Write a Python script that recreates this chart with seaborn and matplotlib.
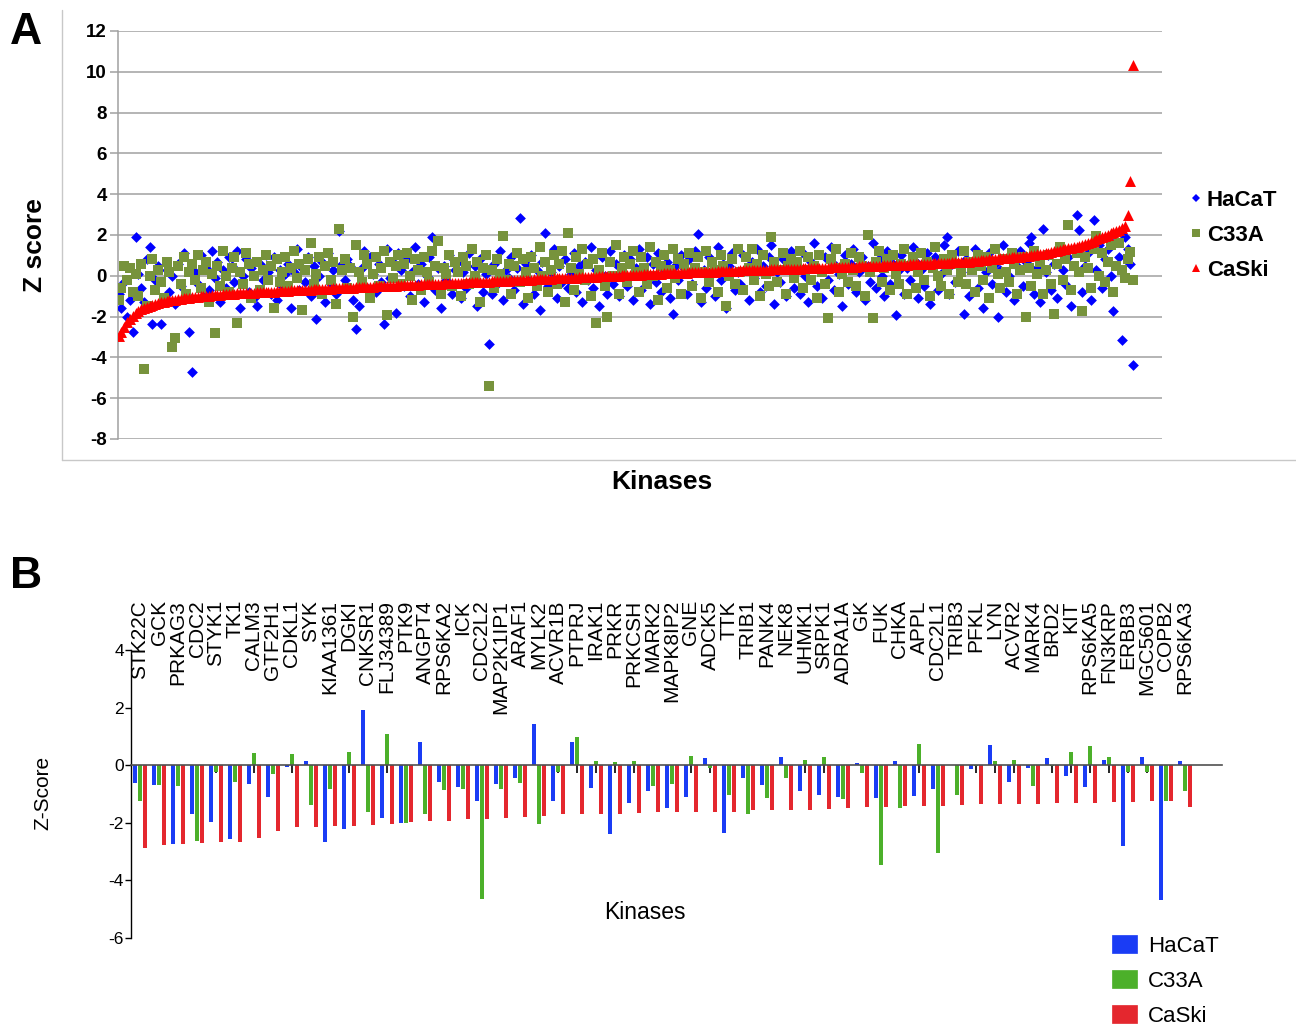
import numpy as np
import pandas as pd
import matplotlib
matplotlib.use("Agg")
import matplotlib.pyplot as plt
import matplotlib.transforms as mtransforms
from matplotlib.lines import Line2D
from matplotlib.patches import Patch
import seaborn as sns

# ---------------- Panel A data (kinases ordered by CaSki Z score) ----------------
caski_z = [
    -2.95, -2.75, -2.5, -2.28, -2.1, -1.96, -1.84, -1.74, -1.65, -1.58, -1.52, -1.46, -1.41, -1.37, -1.33, -1.3, -1.27, -1.24, -1.21, -1.19,
    -1.17, -1.15, -1.13, -1.11, -1.09, -1.07, -1.05, -1.04, -1.02, -1.01, -0.99, -0.98, -0.97, -0.96, -0.95, -0.94, -0.93, -0.91, -0.9, -0.89,
    -0.88, -0.87, -0.86, -0.86, -0.85, -0.84, -0.83, -0.83, -0.82, -0.81, -0.8, -0.8, -0.79, -0.78, -0.78, -0.77, -0.76, -0.75, -0.75, -0.74,
    -0.73, -0.72, -0.72, -0.71, -0.7, -0.7, -0.69, -0.68, -0.68, -0.67, -0.66, -0.66, -0.65, -0.64, -0.64, -0.63, -0.62, -0.62, -0.61, -0.61,
    -0.6, -0.59, -0.58, -0.58, -0.57, -0.56, -0.56, -0.55, -0.54, -0.54, -0.53, -0.52, -0.52, -0.51, -0.5, -0.5, -0.49, -0.48, -0.48, -0.47,
    -0.46, -0.45, -0.45, -0.44, -0.44, -0.43, -0.43, -0.42, -0.41, -0.41, -0.4, -0.4, -0.39, -0.38, -0.38, -0.37, -0.37, -0.36, -0.36, -0.35,
    -0.34, -0.33, -0.33, -0.32, -0.32, -0.31, -0.3, -0.3, -0.29, -0.29, -0.28, -0.28, -0.27, -0.26, -0.26, -0.25, -0.25, -0.24, -0.24, -0.23,
    -0.23, -0.22, -0.21, -0.21, -0.2, -0.19, -0.19, -0.18, -0.17, -0.17, -0.16, -0.15, -0.15, -0.14, -0.13, -0.13, -0.12, -0.12, -0.11, -0.11,
    -0.1, -0.09, -0.09, -0.08, -0.07, -0.07, -0.06, -0.05, -0.05, -0.04, -0.03, -0.03, -0.02, -0.01, -0.01, 0.0, 0.0, 0.01, 0.02, 0.02,
    0.03, 0.04, 0.04, 0.05, 0.06, 0.06, 0.07, 0.08, 0.08, 0.09, 0.1, 0.1, 0.11, 0.12, 0.12, 0.13, 0.13, 0.14, 0.15, 0.15,
    0.16, 0.16, 0.17, 0.17, 0.18, 0.18, 0.19, 0.19, 0.2, 0.2, 0.21, 0.21, 0.22, 0.22, 0.23, 0.23, 0.24, 0.24, 0.25, 0.25,
    0.26, 0.26, 0.27, 0.27, 0.28, 0.28, 0.29, 0.29, 0.3, 0.3, 0.3, 0.31, 0.31, 0.32, 0.32, 0.33, 0.33, 0.34, 0.34, 0.35,
    0.35, 0.35, 0.36, 0.36, 0.37, 0.37, 0.38, 0.38, 0.39, 0.39, 0.4, 0.4, 0.41, 0.41, 0.42, 0.42, 0.43, 0.43, 0.44, 0.44,
    0.45, 0.45, 0.46, 0.46, 0.47, 0.47, 0.48, 0.48, 0.49, 0.5, 0.5, 0.51, 0.51, 0.52, 0.52, 0.53, 0.53, 0.54, 0.54, 0.55,
    0.56, 0.56, 0.57, 0.58, 0.58, 0.59, 0.6, 0.6, 0.61, 0.62, 0.62, 0.63, 0.64, 0.64, 0.65, 0.66, 0.66, 0.67, 0.67, 0.68,
    0.69, 0.7, 0.72, 0.73, 0.74, 0.76, 0.77, 0.78, 0.8, 0.81, 0.82, 0.84, 0.85, 0.86, 0.88, 0.89, 0.9, 0.91, 0.92, 0.93,
    0.95, 0.97, 0.99, 1.01, 1.03, 1.05, 1.07, 1.09, 1.11, 1.14, 1.17, 1.2, 1.23, 1.26, 1.29, 1.32, 1.35, 1.38, 1.41, 1.43,
    1.45, 1.5, 1.55, 1.6, 1.66, 1.72, 1.78, 1.84, 1.9, 1.96, 2.02, 2.08, 2.14, 2.2, 2.26, 2.33, 2.45, 2.98, 4.65, 10.33,
]
hacat_z = [
    -0.9, -1.6, -0.3, -2.0, -1.2, -2.75, 1.9, 0.1, -0.6, -1.3, 0.8, 1.4, -2.36, -0.2, 0.5, -2.36, -1.1, 0.3, -0.8, 0.0,
    -1.4, 0.6, -0.5, 1.1, -0.9, -2.77, -4.7, 0.2, -0.4, 1.0, -1.0, 0.4, -0.7, 1.2, -0.1, 0.7, -1.3, 0.3, -0.6, 0.9,
    0.5, -0.3, 1.2, -1.6, 0.0, 0.8, -0.8, 0.4, -1.1, -1.5, 0.6, -0.2, 1.0, 0.2, -0.9, 0.9, -1.2, 0.3, -0.5, 0.1,
    0.6, -1.6, 0.2, 1.3, -0.7, 0.4, -0.3, 0.9, -1.0, 0.5, -2.1, 0.0, 0.7, -1.3, 1.1, -0.4, 0.3, -0.9, 2.2, 0.6,
    -0.2, 0.8, 0.5, -1.2, -2.6, -1.5, 0.4, 1.2, -0.6, 0.9, 0.1, -0.8, 0.6, -0.3, -2.35, 1.3, -0.1, 0.7, -1.8, 1.1,
    0.3, -0.5, 0.8, -1.0, 0.2, 1.4, -0.4, 0.6, -1.3, 0.0, 0.9, 1.9, -0.7, 0.4, -1.6, 0.5, -0.2, 1.0, -0.9, 0.3,
    0.7, -1.1, 0.2, -0.6, 1.1, -0.3, 0.5, -1.5, 0.8, -0.8, 0.1, -3.35, -0.9, 0.6, -0.4, 1.2, -1.2, 0.3, -0.1, 0.9,
    -0.7, 0.4, 2.85, -1.4, 0.6, -0.2, 1.0, -0.9, 0.3, -1.7, 0.7, 2.1, -0.5, 0.2, 1.3, -1.1, 0.5, -0.3, 0.8, -0.6,
    0.1, 1.1, -0.8, 0.5, -1.3, 0.7, -0.2, 1.4, -0.6, 0.3, -1.5, 0.9, 0.0, -0.9, 1.2, -0.4, 0.6, -1.0, 0.2, 1.0,
    -0.5, 0.8, -1.2, 0.4, 1.3, -0.7, 0.1, 0.9, -1.4, 0.6, -0.3, 1.1, -0.8, 0.2, 0.7, -1.1, -1.85, 0.5, -0.2, 1.0,
    0.4, -0.9, 0.8, -0.4, 1.2, 2.05, -1.3, 0.3, -0.6, 0.9, 0.1, -1.0, 1.4, -0.2, 0.6, -1.6, 0.5, 1.1, -0.7, 0.2,
    -0.4, 1.0, 0.3, -1.2, 0.7, -0.1, 1.3, -0.8, 0.5, -0.5, 0.9, 1.5, -1.4, 0.2, -0.3, 0.8, -1.0, 0.6, 1.2, -0.6,
    0.4, -0.9, 1.1, 0.0, -1.3, 0.7, 1.6, -0.5, 0.3, -1.1, 0.9, -0.2, 1.4, -0.7, 0.5, 0.1, -1.5, 1.0, -0.4, 0.6,
    1.3, -0.8, 0.2, 0.9, -1.2, 0.5, -0.3, 1.6, -0.6, 0.8, 0.0, -1.0, 1.2, -0.4, 0.6, -1.92, 0.3, 1.0, -0.9, 0.4,
    -0.2, 1.4, 0.7, -1.1, 0.3, -0.5, 1.1, -1.4, 0.5, 0.9, -0.7, 0.1, 1.5, 1.9, -0.9, 0.6, -0.3, 1.2, 0.2, -1.85,
    0.8, -1.0, 0.4, 1.3, -0.6, 0.9, -1.6, 0.2, 1.1, -0.4, 0.6, -2.03, 0.3, 1.5, -0.8, 0.0, 0.9, -1.2, 0.5, 1.2,
    -0.5, 0.7, 1.6, 1.9, -0.9, 0.4, -1.3, 2.3, 0.2, 1.0, -0.7, 0.6, -1.1, 1.4, 0.3, -0.4, 0.9, -1.5, 1.2, 2.98,
    2.25, -0.8, 0.5, 1.1, -1.2, 2.74, 0.3, 1.5, -0.6, 0.8, 1.3, 0.0, -1.73, 1.7, 0.9, -3.13, 1.9, 1.3, 0.6, -4.37,
]
c33a_z = [
    -1.2, -0.6, 0.5, -0.2, 0.4, -0.8, 0.1, -1.0, 0.6, -4.58, -1.5, 0.0, 0.8, -0.7, 0.3, -0.3, -1.1, 0.7, 0.2, -3.49,
    -3.07, 0.5, -0.4, 0.9, -0.9, 0.2, 0.6, -0.2, 1.0, -0.6, 0.3, 0.7, -1.3, 0.1, -2.8, 0.5, -0.5, 1.2, 0.0, -0.8,
    0.4, 0.9, -2.33, 0.2, -0.4, 1.1, 0.6, -1.1, 0.0, 0.7, -0.7, 0.3, 1.0, -0.2, 0.5, -1.6, 0.8, -0.3, 0.2, 0.9,
    -0.5, 0.4, 1.2, -0.1, 0.6, -1.7, 0.3, 0.8, 1.6, -0.4, 0.1, 0.9, -0.9, 0.5, 1.1, -0.2, 0.7, -1.4, 2.3, 0.3,
    0.8, -0.6, 0.4, -2.0, 1.5, 0.2, -0.3, 1.0, 0.6, -1.1, 0.1, 0.9, -0.5, 0.4, 1.2, -1.9, 0.7, -0.1, 0.5, 1.0,
    -0.4, 0.6, 1.1, 0.0, -1.2, 0.8, 0.3, -0.7, 0.9, 0.2, -0.3, 1.2, 0.5, 1.7, -0.9, 0.4, 0.1, 1.0, -0.5, 0.7,
    0.2, -1.0, 0.9, 0.5, -0.4, 1.3, 0.0, 0.7, -1.3, 0.4, 1.0, -5.4, 0.3, -0.6, 0.8, 0.1, 1.95, -0.2, 0.6, -0.9,
    0.5, 1.1, -0.3, 0.8, 0.2, -1.1, 0.9, 0.4, -0.5, 1.4, 0.0, 0.7, -0.8, 0.3, 1.0, -0.4, 0.6, 1.2, -1.3, 2.1,
    0.4, -0.7, 0.9, 0.1, 1.3, -0.2, 0.6, -1.0, 0.8, -2.3, 0.3, 1.1, -0.5, -2.0, 0.7, 0.0, 1.5, -0.9, 0.4, 0.9,
    -0.3, 0.6, 1.2, 0.2, -0.8, 0.9, 0.4, -0.4, 1.4, 0.0, 0.7, -1.2, 0.5, 1.0, -0.6, 0.3, 1.3, -0.1, 0.8, -0.9,
    0.6, 0.1, 1.1, -0.5, 0.4, 0.9, -1.1, 0.2, 1.2, -0.3, 0.7, 0.3, -0.8, 1.0, 0.5, -1.5, 0.0, 0.8, -0.4, 1.3,
    0.2, -0.7, 0.9, 0.4, 1.3, -0.2, 0.6, -1.0, 1.0, 0.1, -0.5, 1.9, 0.7, -0.3, 0.3, 1.1, -0.9, 0.5, 0.8, -0.1,
    0.7, 1.2, -0.6, 0.3, 0.9, -0.2, 0.5, -1.1, 1.0, 0.2, -0.4, -2.07, 0.8, 0.4, 1.3, -0.8, 0.1, 0.6, -0.3, 1.1,
    0.3, -0.5, 0.9, 0.5, -1.0, 2.0, 0.2, -2.07, 0.7, 1.2, -0.3, 0.4, 0.8, -0.7, 1.0, 0.1, -0.4, 0.6, 1.3, -0.9,
    0.5, 0.9, -0.6, 0.2, 1.1, -0.2, 0.7, -1.0, 0.4, 1.4, 0.0, -0.5, 0.8, 0.3, -0.9, 1.0, 0.6, -0.3, 0.2, 1.2,
    -0.4, 0.7, 0.3, -0.8, 1.0, 0.5, -0.2, 0.9, -1.1, 0.4, 1.3, 0.1, -0.6, 0.8, 0.2, -0.3, 1.1, 0.6, -0.9, 0.3,
    0.9, -2.0, 0.4, -0.5, 1.2, 0.1, 0.7, -0.9, 0.3, 1.0, -0.4, -1.87, 0.6, 1.4, -0.2, 0.8, 2.5, -0.7, 0.5, 1.1,
    0.2, -1.75, 0.9, 0.4, -0.6, 1.3, 1.97, 0.0, 1.1, -0.3, 0.7, 1.5, -0.8, 0.5, 1.6, 0.3, -0.1, 0.8, 1.17, -0.2,
]

# ---------------- Panel B data ----------------
kinases = ["STK22C", "GCK", "PRKAG3", "CDC2", "STYK1", "TK1", "CALM3", "GTF2H1", "CDKL1", "SYK",
           "KIAA1361", "DGKI", "CNKSR1", "FLJ34389", "PTK9", "ANGPT4", "RPS6KA2", "ICK", "CDC2L2", "MAP2K1IP1",
           "ARAF1", "MYLK2", "ACVR1B", "PTPRJ", "IRAK1", "PRKR", "PRKCSH", "MARK2", "MAPK8IP2", "GNE",
           "ADCK5", "TTK", "TRIB1", "PANK4", "NEK8", "UHMK1", "SRPK1", "ADRA1A", "GK", "FUK",
           "CHKA", "APPL", "CDC2L1", "TRIB3", "PFKL", "LYN", "ACVR2", "MARK4", "BRD2", "KIT",
           "RPS6KA5", "FN3KRP", "ERBB3", "MGC5601", "COPB2", "RPS6KA3"]
hacat_b = [-0.61, -0.68, -2.74, -1.68, -1.97, -2.57, -0.66, -1.12, -0.06, 0.13,
           -2.67, -2.23, 1.93, -1.85, -2.02, 0.79, -0.57, -0.77, -1.25, -0.64,
           -0.43, 1.42, -1.23, 0.81, -0.80, -2.39, -1.31, -0.89, -1.47, -1.12,
           0.25, -2.37, -0.46, -0.69, 0.29, -0.90, -1.03, -1.10, 0.08, -1.14,
           0.13, -1.08, -0.84, 0.0, -0.14, 0.69, -0.59, -0.08, 0.24, -0.36,
           -0.76, 0.18, -2.79, 0.27, -4.68, 0.14]
c33a_b = [-1.25, -0.68, -0.71, -2.62, -0.23, -0.59, 0.44, -0.29, 0.40, -1.39,
          -0.81, 0.46, -1.63, 1.08, -2.0, -1.70, -0.87, -0.83, -4.65, -0.84,
          -0.61, -2.05, -0.25, 0.99, 0.13, 0.10, 0.13, -0.71, -0.64, 0.31,
          -0.10, -1.04, -1.68, -1.13, -0.44, 0.17, 0.29, -1.19, -0.27, -3.47,
          -1.48, 0.75, -3.06, -1.05, -0.03, 0.13, 0.18, -0.72, -0.02, 0.46,
          0.67, 0.28, -0.23, -0.23, -1.25, -0.88]
caski_b = [-2.86, -2.77, -2.74, -2.69, -2.66, -2.66, -2.52, -2.29, -2.13, -2.13,
           -2.10, -2.10, -2.06, -2.05, -1.98, -1.93, -1.93, -1.88, -1.86, -1.84,
           -1.79, -1.77, -1.70, -1.68, -1.68, -1.68, -1.66, -1.62, -1.61, -1.61,
           -1.61, -1.61, -1.57, -1.57, -1.54, -1.54, -1.51, -1.48, -1.46, -1.45,
           -1.42, -1.42, -1.40, -1.39, -1.36, -1.36, -1.36, -1.33, -1.31, -1.31,
           -1.31, -1.29, -1.27, -1.26, -1.25, -1.45]

series_names = ["HaCaT", "C33A", "CaSki"]
scatter_colors = ["#0000ff", "#77933c", "#ff0000"]
bar_colors = ["#1a3cf5", "#4cb02a", "#e4272e"]

# ---------------- style ----------------
sns.set_theme(style="white")
plt.rcParams["font.family"] = ["Liberation Sans", "DejaVu Sans"]
plt.rcParams["axes.unicode_minus"] = False
for k in ["text.color", "axes.labelcolor", "xtick.color", "ytick.color"]:
    plt.rcParams[k] = "black"
NARROW = ["Liberation Sans Narrow", "Liberation Sans", "DejaVu Sans"]

W, H = 1296, 1025
fig = plt.figure(figsize=(W / 100, H / 100), dpi=100)


def box(l, t, r, b):
    return [l / W, 1 - b / H, (r - l) / W, (b - t) / H]


axA = fig.add_axes(box(118, 31, 1162, 439))
axB = fig.add_axes(box(131, 650, 1222, 938))

# ---------------- Panel A ----------------
idx = np.arange(1, len(caski_z) + 1)
dfA = pd.DataFrame({"kinase": idx, "HaCaT": hacat_z, "C33A": c33a_z, "CaSki": caski_z})
sns.scatterplot(data=dfA, x="kinase", y="HaCaT", marker="D", s=30, color=scatter_colors[0],
                linewidth=0, ax=axA, zorder=3)
sns.scatterplot(data=dfA, x="kinase", y="C33A", marker="s", s=44, color=scatter_colors[1],
                linewidth=0, ax=axA, zorder=4)
sns.scatterplot(data=dfA, x="kinase", y="CaSki", marker="^", s=62, color=scatter_colors[2],
                linewidth=0, ax=axA, zorder=5)
axA.set_xlim(0.8, 370.2)
axA.set_ylim(-8, 12)
axA.set_yticks(range(-8, 13, 2))
axA.grid(axis="y", color="#a0a0a0", lw=1.1)
axA.grid(axis="x", visible=False)
axA.set_axisbelow(True)
for s in ["top", "right", "bottom"]:
    axA.spines[s].set_visible(False)
axA.spines["left"].set_color("#a0a0a0")
axA.spines["left"].set_linewidth(1.1)
axA.tick_params(axis="y", left=True, length=6, color="#a0a0a0", width=1.1, pad=2, labelsize=13.5)
axA.tick_params(axis="x", bottom=False, labelbottom=False)
plt.setp(axA.get_yticklabels(), fontweight="bold")
axA.set_xlabel("Kinases", fontsize=19, fontweight="bold", va="center")
axA.xaxis.set_label_coords(0.521, -0.105)
axA.set_ylabel("Z score", fontsize=19, fontweight="bold", va="center")
axA.yaxis.set_label_coords(-0.0795, 0.475)

handlesA = [
    Line2D([], [], ls="none", marker="D", markersize=4.5, color=scatter_colors[0], markeredgewidth=0),
    Line2D([], [], ls="none", marker="s", markersize=5.5, color=scatter_colors[1], markeredgewidth=0),
    Line2D([], [], ls="none", marker="^", markersize=6, color=scatter_colors[2], markeredgewidth=0),
]
fig.legend(handlesA, series_names, loc="upper left", bbox_to_anchor=(1189 / W, 1 - 190 / H),
           frameon=False, prop=dict(family=["Liberation Sans", "DejaVu Sans"], weight="bold", size=16),
           handlelength=0.6, handletextpad=0.2, labelspacing=0.62, borderpad=0, borderaxespad=0)

# ---------------- Panel B ----------------
dfB = pd.DataFrame({
    "kinase": kinases * 3,
    "line": [n for n in series_names for _ in kinases],
    "z": hacat_b + c33a_b + caski_b,
})
sns.barplot(data=dfB, x="kinase", y="z", hue="line", order=kinases, hue_order=series_names,
            palette=bar_colors, width=0.8, gap=0.35, linewidth=0, saturation=1,
            errorbar=None, legend=False, ax=axB)
axB.set_xlim(-0.474, 56.95)
axB.set_ylim(-6, 4)
axB.set_yticks([-6, -4, -2, 0, 2, 4])
axB.spines["top"].set_visible(False)
axB.spines["right"].set_visible(False)
axB.spines["bottom"].set_position(("data", 0))
axB.spines["bottom"].set_color("#505050")
axB.spines["bottom"].set_linewidth(1.2)
axB.spines["left"].set_color("black")
axB.spines["left"].set_linewidth(1.0)
axB.tick_params(axis="x", bottom=True, length=6, width=1.2, color="black", direction="out",
                labelbottom=False)
axB.tick_params(axis="y", left=True, length=4, width=1.0, color="black", pad=1, labelsize=12.5)
plt.setp(axB.get_yticklabels(), family=NARROW)
axB.set_xlabel("Kinases", fontsize=16.5, family=NARROW, va="center")
axB.xaxis.set_label_coords(0.471, 0.09)
axB.set_ylabel("Z-Score", fontsize=15, family=NARROW, va="center")
axB.yaxis.set_label_coords(-0.0807, 0.503)

trans = mtransforms.blended_transform_factory(axB.transData, axB.transAxes)
for i, k in enumerate(kinases):
    axB.text(i, 1.1736, k, transform=trans, rotation=90, ha="center", va="top", fontsize=15,
             clip_on=False)

handlesB = [Patch(facecolor=c, edgecolor=c, lw=0.5) for c in bar_colors]
fig.legend(handlesB, series_names, loc="upper left", bbox_to_anchor=(1112 / W, 1 - 935 / H),
           frameon=False, prop=dict(family=NARROW, size=16),
           handlelength=1.13, handleheight=0.87, handletextpad=0.5, labelspacing=0.6,
           borderpad=0, borderaxespad=0)

# ---------------- panel letters and frame ----------------
fig.text(10 / W, 1 - 12 / H, "A", fontsize=32, fontweight="bold", family=NARROW, ha="left", va="top")
fig.text(10 / W, 1 - 556 / H, "B", fontsize=32, fontweight="bold", family=NARROW, ha="left", va="top")
fig.add_artist(Line2D([62 / W, 62 / W], [1 - 10 / H, 1 - 460 / H], color="#c8c8c8", lw=1,
                      transform=fig.transFigure))
fig.add_artist(Line2D([62 / W, 1.0], [1 - 460 / H, 1 - 460 / H], color="#c8c8c8", lw=1,
                      transform=fig.transFigure))

fig.savefig("out.png", dpi=100)
